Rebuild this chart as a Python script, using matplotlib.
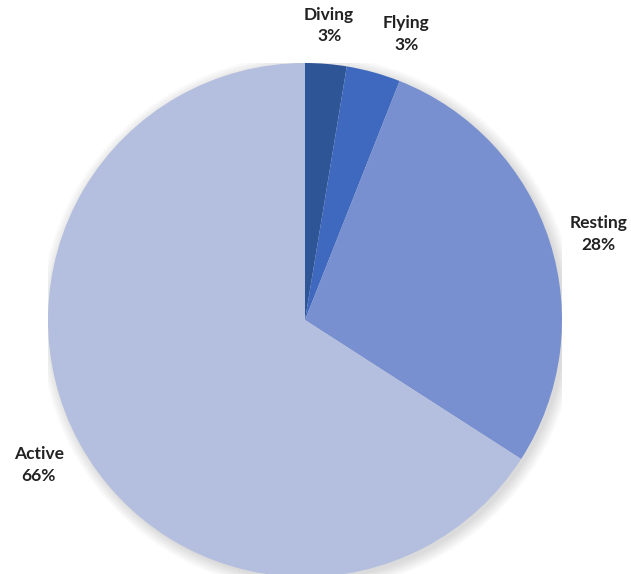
import matplotlib
matplotlib.use("Agg")
import numpy as np
import matplotlib.pyplot as plt
from matplotlib.patches import Circle

categories = ["Diving", "Flying", "Resting", "Active"]
values = [2.6, 3.4, 28.1, 65.9]
colors = ["#2E5596", "#3F69BE", "#7890D0", "#B4BFDF"]
label_dist = [1.15, 1.18, 1.19, 1.18]
label_rot = [0.0, -4.0, -1.5, 0.0]

fig = plt.figure(figsize=(6.31, 5.74), dpi=100)
fig.patch.set_facecolor("white")
W, H = 631, 574
cx, cy, r = 305, 320, 257
ax = fig.add_axes([(cx - r) / W, (H - cy - r) / H, 2 * r / W, 2 * r / H])
ax.set_xlim(-1, 1)
ax.set_ylim(-1, 1)
ax.axis("off")

# soft shadow
for i in range(12):
    s = Circle((0.012, -0.012), 1.0 + 0.004 * i, facecolor="black",
               alpha=0.012, edgecolor="none", zorder=0)
    ax.add_patch(s)

total = sum(values)
labels = [f"{c}\n{round(v / total * 100)}%" for c, v in zip(categories, values)]
wedges, texts = ax.pie(values, colors=colors, startangle=90, counterclock=False,
                       labels=labels, labeldistance=1.18, radius=1.0,
                       wedgeprops=dict(edgecolor="none", linewidth=0),
                       textprops=dict(fontsize=12.5, fontweight="bold",
                                      family=["Lato", "DejaVu Sans"],
                                      color="#222222", linespacing=1.45))
for w, t, d, rot in zip(wedges, texts, label_dist, label_rot):
    w.set_zorder(2)
    ang = np.deg2rad((w.theta1 + w.theta2) / 2 + rot)
    t.set_position((d * np.cos(ang), d * np.sin(ang)))
    t.set_ha("center")
    t.set_va("center")
ax.set_xlim(-1, 1)
ax.set_ylim(-1, 1)
ax.set_aspect("auto")
fig.savefig("out.png", dpi=100, facecolor="white")
